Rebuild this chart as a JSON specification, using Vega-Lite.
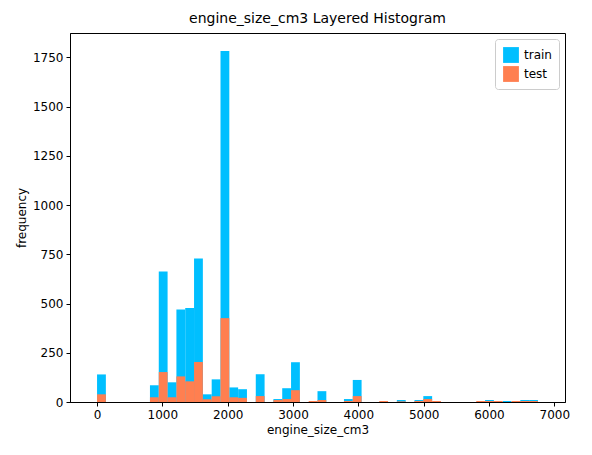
{
  "$schema": "https://vega.github.io/schema/vega-lite/v6.json",
  "autosize": {"type": "none"},
  "padding": {"left": 70, "top": 33, "right": 27, "bottom": 53},
  "width": 495,
  "height": 369,
  "config": {
    "font": "DejaVu Sans",
    "view": {"stroke": "black", "strokeWidth": 1},
    "axis": {"grid": false, "domainColor": "black", "tickColor": "black", "labelColor": "black", "titleColor": "black", "labelFontSize": 12, "titleFontSize": 12, "titleFontWeight": "normal", "tickSize": 4, "labelPadding": 3, "format": "d"}
  },
  "title": {"text": "engine_size_cm3 Layered Histogram", "fontSize": 14, "fontWeight": "normal", "offset": 7},
  "data": {
    "values": [
      {"bin": 0, "train": 140, "test": 39},
      {"bin": 6, "train": 85, "test": 24},
      {"bin": 7, "train": 663, "test": 152},
      {"bin": 8, "train": 100, "test": 24},
      {"bin": 9, "train": 470, "test": 130},
      {"bin": 10, "train": 477, "test": 105},
      {"bin": 11, "train": 729, "test": 203},
      {"bin": 12, "train": 39, "test": 14},
      {"bin": 13, "train": 115, "test": 29},
      {"bin": 14, "train": 1782, "test": 426},
      {"bin": 15, "train": 74, "test": 24},
      {"bin": 16, "train": 65, "test": 21},
      {"bin": 18, "train": 141, "test": 30},
      {"bin": 20, "train": 15, "test": 10},
      {"bin": 21, "train": 70, "test": 15},
      {"bin": 22, "train": 202, "test": 60},
      {"bin": 24, "train": 0, "test": 5},
      {"bin": 25, "train": 55, "test": 10},
      {"bin": 28, "train": 15, "test": 5},
      {"bin": 29, "train": 112, "test": 30},
      {"bin": 32, "train": 0, "test": 5},
      {"bin": 34, "train": 10, "test": 3},
      {"bin": 36, "train": 10, "test": 5},
      {"bin": 37, "train": 30, "test": 15},
      {"bin": 38, "train": 0, "test": 5},
      {"bin": 43, "train": 0, "test": 5},
      {"bin": 44, "train": 10, "test": 5},
      {"bin": 45, "train": 0, "test": 5},
      {"bin": 46, "train": 5, "test": 0},
      {"bin": 47, "train": 0, "test": 5},
      {"bin": 48, "train": 10, "test": 5},
      {"bin": 49, "train": 10, "test": 5}
    ]
  },
  "transform": [
    {"calculate": "datum.bin * 135", "as": "x0"},
    {"calculate": "datum.bin * 135 + 135", "as": "x1"},
    {"fold": ["train", "test"], "as": ["series", "frequency"]}
  ],
  "mark": {"type": "bar", "orient": "vertical"},
  "encoding": {
    "x": {"field": "x0", "type": "quantitative", "title": "engine_size_cm3", "scale": {"domain": [-337.5, 7087.5], "nice": false, "zero": false}, "axis": {"values": [0, 1000, 2000, 3000, 4000, 5000, 6000, 7000]}},
    "x2": {"field": "x1"},
    "y": {"field": "frequency", "type": "quantitative", "stack": null, "title": "frequency", "scale": {"domain": [0, 1874], "nice": false}, "axis": {"values": [0, 250, 500, 750, 1000, 1250, 1500, 1750]}},
    "color": {"field": "series", "type": "nominal", "scale": {"domain": ["train", "test"], "range": ["#00bfff", "#ff7f50"]},
      "legend": {"title": null, "orient": "top-right", "symbolType": "square", "symbolSize": 250, "labelFontSize": 12, "strokeColor": "#cccccc", "fillColor": "white", "padding": 7, "cornerRadius": 3, "offset": 6}},
    "order": {"field": "series", "sort": "descending"}
  }
}
